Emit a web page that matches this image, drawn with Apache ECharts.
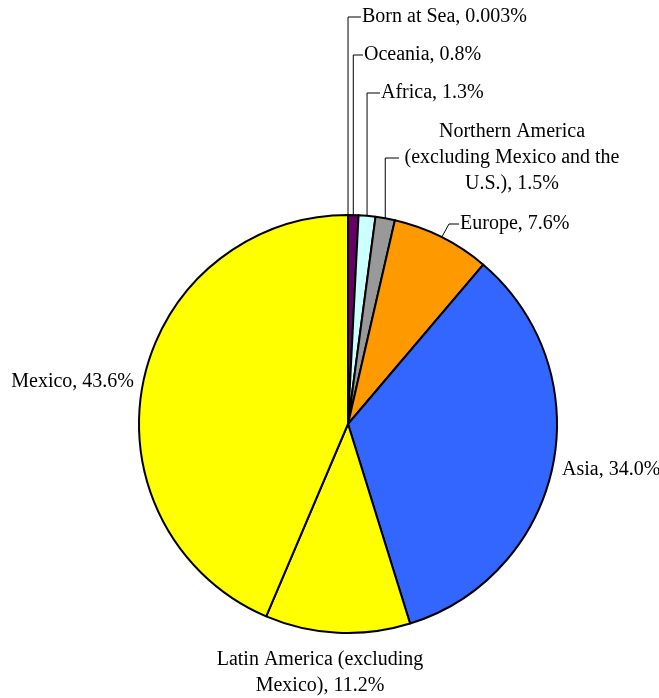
<!DOCTYPE html>
<html><head><meta charset="utf-8">
<script src="https://cdn.jsdelivr.net/npm/echarts@6/dist/echarts.min.js"></script>
<style>html,body{margin:0;padding:0;background:#fff}#c{width:659px;height:698px}</style>
</head><body><div id="c"></div>
<script>
const categories = ["Born at Sea", "Oceania", "Africa", "Northern America\n(excluding Mexico and the\nU.S.)", "Europe", "Asia", "Latin America (excluding\nMexico)", "Mexico"];
const values = [0.003, 0.8, 1.3, 1.5, 7.6, 34.0, 11.2, 43.6];
const valueLabels = ["0.003%", "0.8%", "1.3%", "1.5%", "7.6%", "34.0%", "11.2%", "43.6%"];
const colors = ["#ffffff", "#660066", "#ccffff", "#999999", "#ff9900", "#3366ff", "#ffff00", "#ffff00"];

// label placement (positions only)
const place = [
  {x: 362, y: 17, align: 'left', line: 'v'},
  {x: 364, y: 55, align: 'left', line: 'v'},
  {x: 381, y: 93, align: 'left', line: 'v'},
  {x: 512, y: 158, align: 'center', line: 'v', lx: 400},
  {x: 460, y: 224, align: 'left', line: 'd'},
  {x: 562, y: 470, align: 'left', line: null},
  {x: 320, y: 673, align: 'center', line: null},
  {x: 134, y: 382, align: 'right', line: null}
];

const chart = echarts.init(document.getElementById('c'), null, {renderer: 'canvas'});
chart.setOption({
  animation: false,
  series: [{
    type: 'pie',
    center: [348, 424],
    radius: 209,
    startAngle: 90,
    clockwise: true,
    avoidLabelOverlap: false,
    itemStyle: {borderColor: '#000', borderWidth: 2},
    label: {
      show: true, position: 'outside',
      fontFamily: 'Liberation Serif', fontSize: 20, color: '#000',
      lineHeight: 26,
      formatter: p => p.name + ', ' + valueLabels[p.dataIndex]
    },
    labelLine: {show: true, length: 10, length2: 10, lineStyle: {color: '#000', width: 1}},
    labelLayout: function (params) {
      const pl = place[params.dataIndex];
      const out = {x: pl.x, y: pl.y, align: pl.align, verticalAlign: 'middle'};
      const pts = params.labelLinePoints;
      if (pts && pl.line) {
        const p0 = pts[0];
        const endX = (pl.lx !== undefined ? pl.lx : pl.x) - 1;
        if (pl.line === 'v') {
          out.labelLinePoints = [[p0[0], p0[1]], [p0[0], pl.y], [endX, pl.y]];
        } else {
          out.labelLinePoints = [[p0[0], p0[1]], [endX - 10, pl.y], [endX, pl.y]];
        }
      }
      return out;
    },
    data: categories.map((n, i) => ({
      name: n, value: values[i],
      itemStyle: {color: colors[i]},
      labelLine: {show: place[i].line !== null},
      label: {align: place[i].align}
    }))
  }]
});
</script></body></html>
